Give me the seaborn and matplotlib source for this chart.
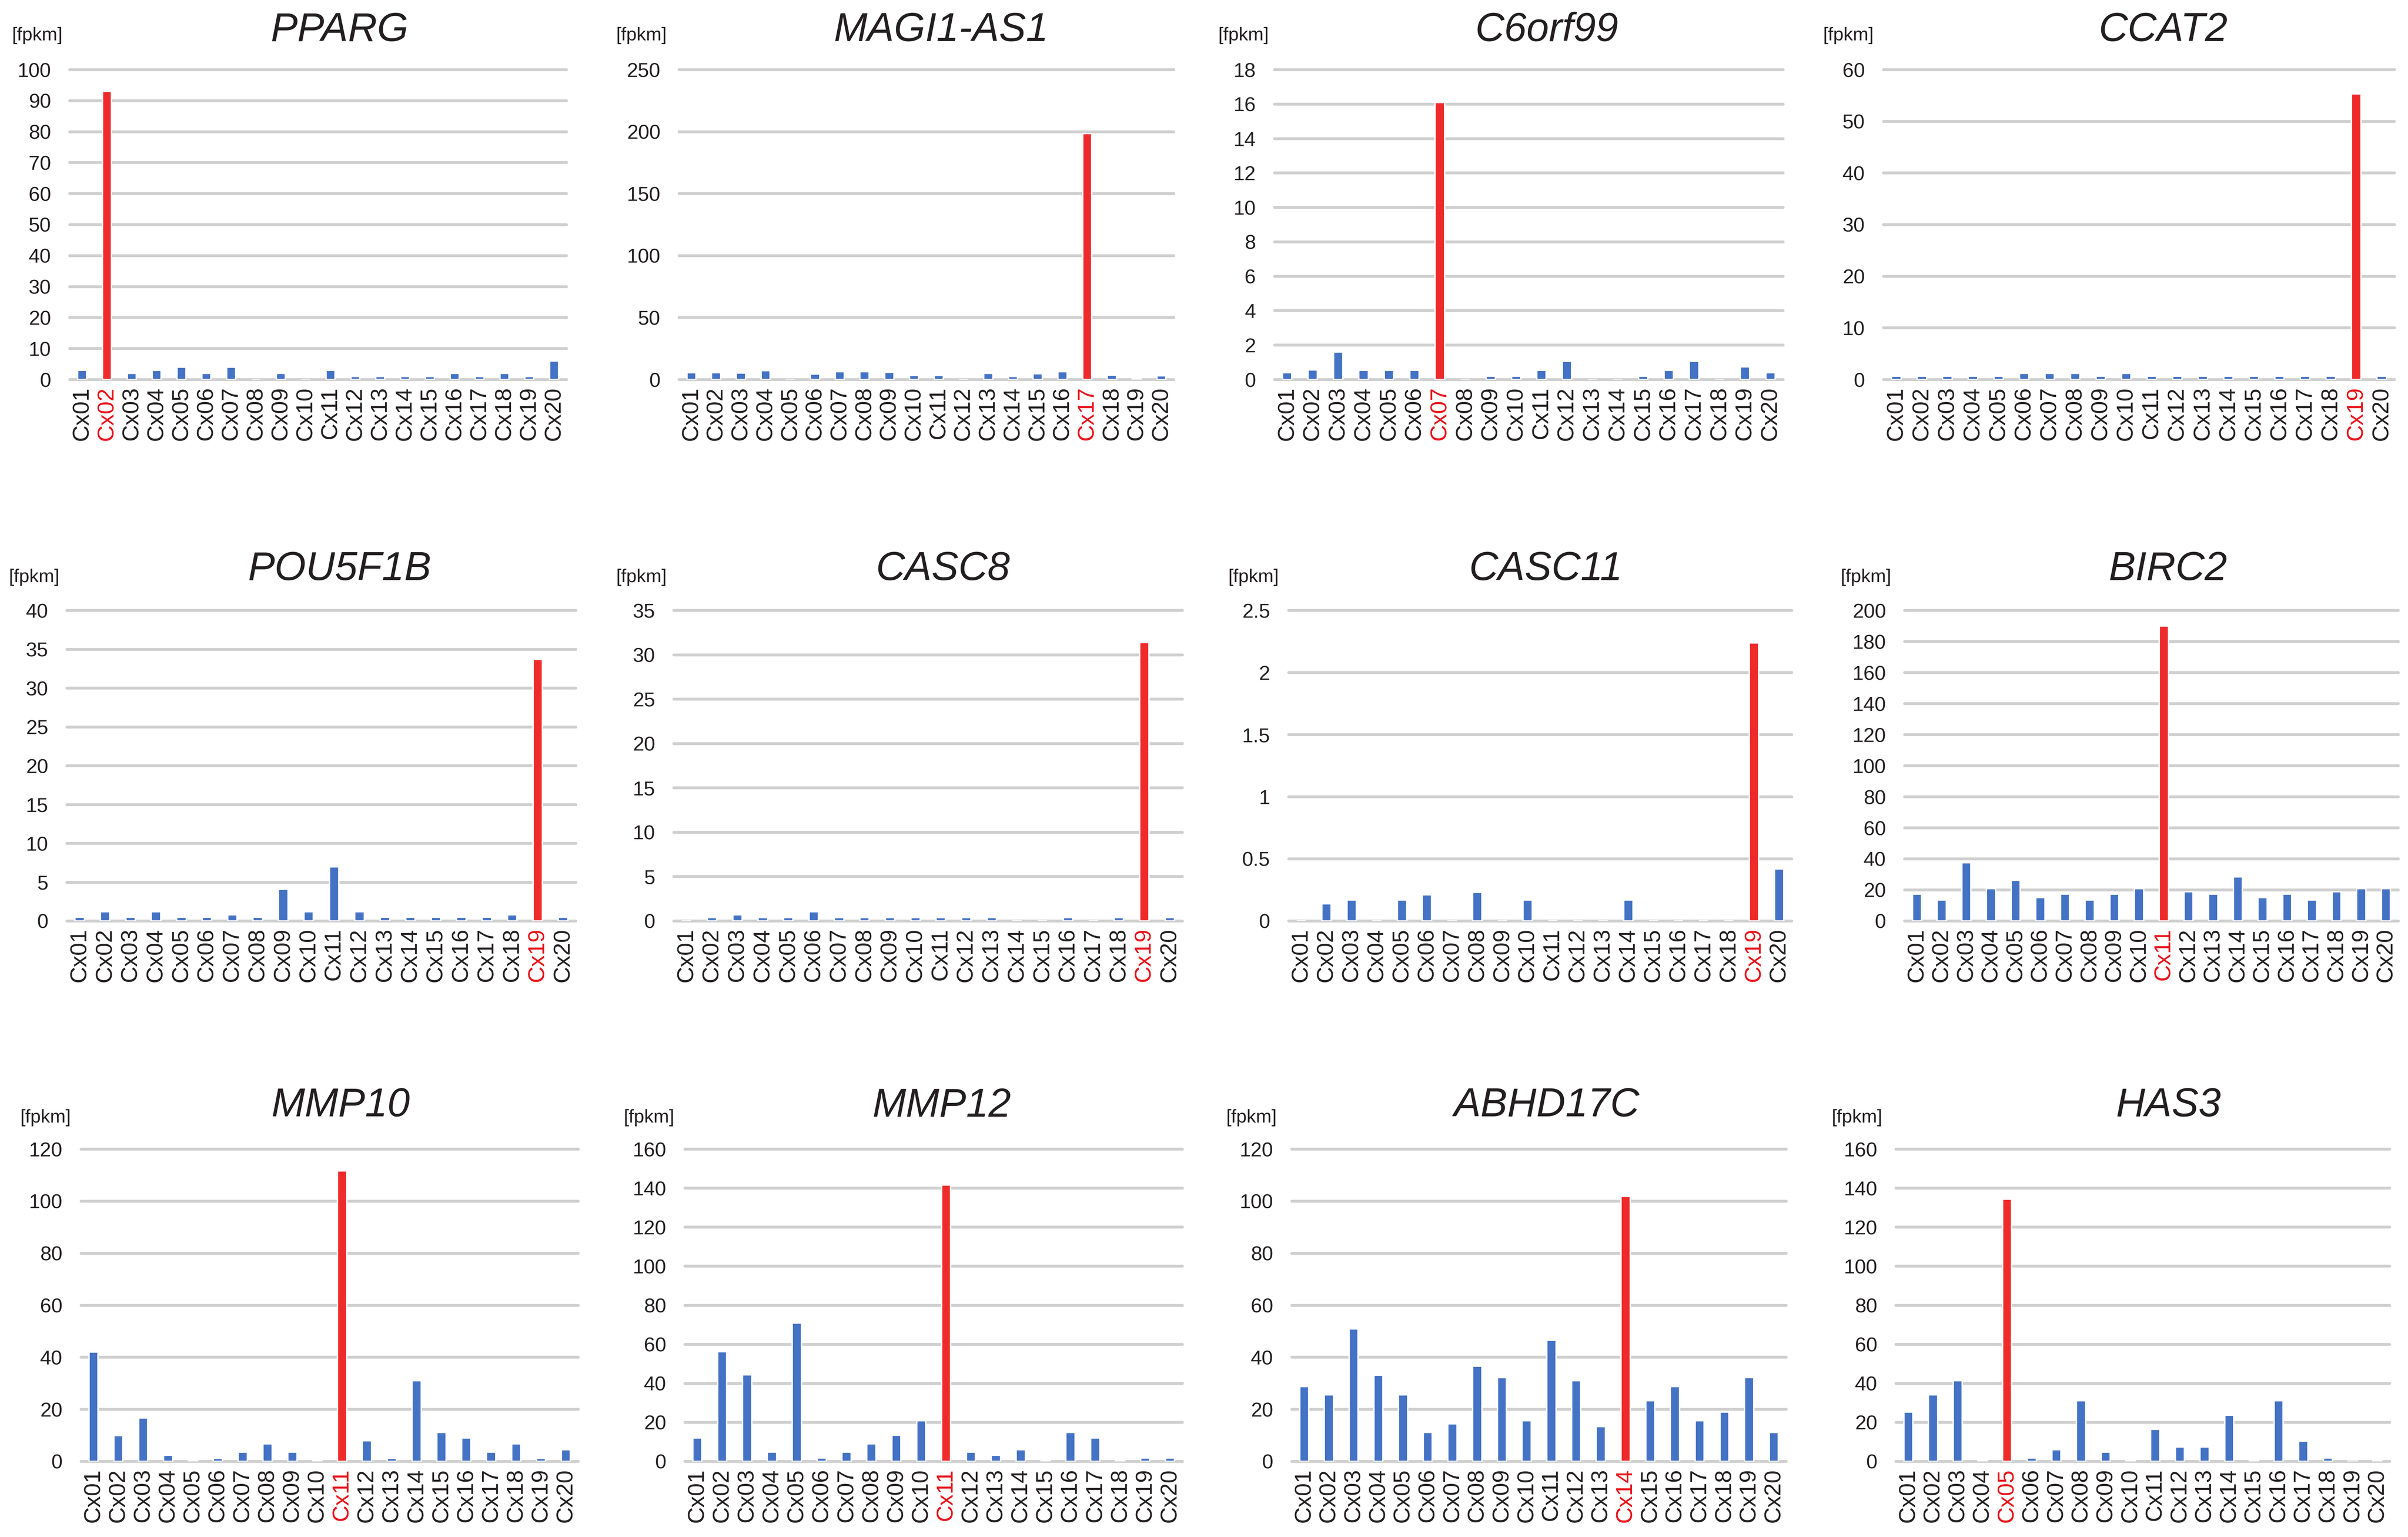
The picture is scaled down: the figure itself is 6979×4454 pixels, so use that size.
import matplotlib
matplotlib.use("Agg")
import matplotlib.pyplot as plt
import seaborn as sns
import pandas as pd

# ---------------- data ----------------
samples = ["Cx01", "Cx02", "Cx03", "Cx04", "Cx05", "Cx06", "Cx07", "Cx08", "Cx09", "Cx10",
           "Cx11", "Cx12", "Cx13", "Cx14", "Cx15", "Cx16", "Cx17", "Cx18", "Cx19", "Cx20"]

genes = ["PPARG", "MAGI1-AS1", "C6orf99", "CCAT2",
         "POU5F1B", "CASC8", "CASC11", "BIRC2",
         "MMP10", "MMP12", "ABHD17C", "HAS3"]

highlight = ["Cx02", "Cx17", "Cx07", "Cx19",
             "Cx19", "Cx19", "Cx19", "Cx11",
             "Cx11", "Cx11", "Cx14", "Cx05"]

pparg = [3, 93, 2, 3, 4, 2, 4, 0, 2, 0, 3, 1, 1, 1, 1, 2, 1, 2, 1, 6]
magi1_as1 = [5.6, 5.6, 5.2, 7.2, 0, 4.4, 6.4, 6.4, 5.9, 3.3, 3.3, 0, 4.9, 2.6, 4.6, 6.4, 198.5, 3.5, 1.2, 3.1]
c6orf99 = [0.4, 0.57, 1.6, 0.55, 0.55, 0.55, 16.1, 0, 0.2, 0.2, 0.55, 1.07, 0, 0, 0.2, 0.55, 1.07, 0, 0.75, 0.4]
ccat2 = [0.7, 0.7, 0.7, 0.7, 0.7, 1.2, 1.2, 1.2, 0.7, 1.2, 0.7, 0.7, 0.7, 0.7, 0.7, 0.7, 0.7, 0.7, 55.3, 0.7]
pou5f1b = [0.5, 1.2, 0.5, 1.2, 0.5, 0.5, 0.8, 0.5, 4.1, 1.2, 7.0, 1.2, 0.5, 0.5, 0.5, 0.5, 0.5, 0.8, 33.7, 0.5]
casc8 = [0, 0.4, 0.7, 0.4, 0.4, 1.05, 0.4, 0.4, 0.4, 0.4, 0.4, 0.4, 0.4, 0, 0, 0.4, 0, 0.4, 31.4, 0.4]
casc11 = [0, 0.14, 0.17, 0, 0.17, 0.21, 0, 0.23, 0, 0.17, 0, 0, 0, 0.17, 0, 0, 0, 0, 2.24, 0.42]
birc2 = [17.3, 13.5, 37.5, 20.8, 26.3, 15.2, 17.3, 13.5, 17.3, 20.8, 190, 19, 17.3, 28.4, 15.2, 17.3, 13.5, 19, 20.8, 20.8]
mmp10 = [42, 10, 16.7, 2.4, 0.2, 1.2, 3.6, 6.8, 3.6, 0.2, 111.7, 7.9, 1.2, 31, 11.1, 9, 3.6, 6.8, 1.2, 4.5]
mmp12 = [12, 56.2, 44.3, 4.7, 70.9, 1.7, 4.7, 9, 13.5, 20.9, 141.7, 4.7, 3.2, 6, 0.3, 14.9, 12, 0.3, 1.7, 1.7]
abhd17c = [28.8, 25.6, 50.9, 33.2, 25.6, 11.2, 14.4, 36.6, 32.2, 15.7, 46.5, 31, 13.4, 101.9, 23.3, 28.8, 15.7, 18.9, 32.2, 11.2]
has3 = [25.2, 34.1, 41.3, 0.5, 134.3, 1.7, 6, 31.1, 4.7, 0.3, 16.4, 7.5, 7.5, 23.7, 0.4, 31.1, 10.5, 1.7, 0.2, 0.4]

series = [pparg, magi1_as1, c6orf99, ccat2, pou5f1b, casc8, casc11, birc2, mmp10, mmp12, abhd17c, has3]

y_max = [100, 250, 18, 60, 40, 35, 2.5, 200, 120, 160, 120, 160]
y_step = [10, 50, 2, 10, 5, 5, 0.5, 20, 20, 20, 20, 20]

unit_label = "[fpkm]"

# ---------------- layout (pixels of the 6979x4454 canvas) ----------------
W, H = 6979, 4454
x_ext = [(202, 1642), (1968, 3402), (3694, 5168), (5459, 6940),
         (194, 1669), (1953, 3427), (3735, 5193), (5520, 6951),
         (235, 1676), (1985, 3427), (3744, 5177), (5495, 6926)]
row_y = [(202, 1100), (1769, 2669), (3330, 4235)]
title_pos = [(984, 89), (2727, 89), (4483, 89), (6269, 89),
             (984, 1650), (2733, 1650), (4480, 1650), (6283, 1650),
             (987, 3205), (2729, 3205), (4483, 3205), (6285, 3205)]
unit_pos = [(34, 103), (1785, 103), (3530, 103), (5283, 103),
            (25, 1673), (1785, 1673), (3559, 1673), (5334, 1673),
            (58, 3239), (1807, 3239), (3553, 3239), (5308, 3239)]

BLUE = "#4472C4"
RED = "#EE2A2A"
TXT = "#231F20"
GRID = "#CFCFCF"

sns.set_theme(style="white")
plt.rcParams['font.family'] = ['Liberation Sans', 'DejaVu Sans']

fig = plt.figure(figsize=(W / 300, H / 300), dpi=300)
fig.patch.set_facecolor("white")

for i, gene in enumerate(genes):
    x0, x1 = x_ext[i]
    yt, yz = row_y[i // 4]
    ax = fig.add_axes([x0 / W, 1 - yz / H, (x1 - x0) / W, (yz - yt) / H])
    df = pd.DataFrame({"sample": samples, "fpkm": series[i]})
    pal = {s: (RED if s == highlight[i] else BLUE) for s in samples}
    sns.barplot(data=df, x="sample", y="fpkm", hue="sample", palette=pal,
                legend=False, width=0.37, saturation=1, ax=ax, zorder=3)
    ax.set_xlim(-0.5, len(samples) - 0.5)
    ax.set_ylim(0, y_max[i])
    n = int(round(y_max[i] / y_step[i]))
    ticks = [round(k * y_step[i], 3) for k in range(n + 1)]
    ax.set_yticks(ticks)
    ax.set_yticklabels([f"{t:g}" for t in ticks])
    ax.set_xlabel("")
    ax.set_ylabel("")
    ax.grid(axis="y", color=GRID, lw=2.0)
    ax.grid(axis="x", visible=False)
    ax.set_axisbelow(True)
    for gl in ax.get_ygridlines():
        gl.set_clip_on(False)
    for sp in ax.spines.values():
        sp.set_visible(False)
    ax.set_facecolor("none")
    ax.tick_params(axis="y", length=0, pad=13, labelsize=14, labelcolor=TXT)
    ax.tick_params(axis="x", length=0, pad=5, labelsize=16, labelcolor=TXT)
    for lbl in ax.get_xticklabels():
        lbl.set_rotation(90)
        if lbl.get_text() == highlight[i]:
            lbl.set_color("#E8141B")
    tx, ty = title_pos[i]
    fig.text(tx / W, 1 - ty / H, gene, ha="center", va="center",
             fontsize=28, style="italic", color=TXT)
    ux, uy = unit_pos[i]
    fig.text(ux / W, 1 - uy / H, unit_label, ha="left", va="center",
             fontsize=13, color=TXT)

fig.savefig("out.png", dpi=300, facecolor="white")
